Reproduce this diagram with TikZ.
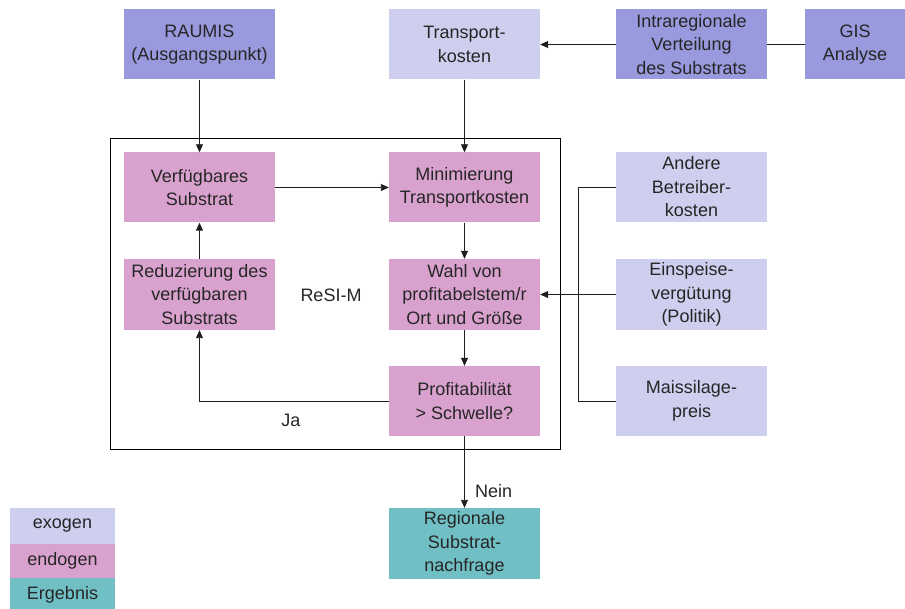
\documentclass[tikz,border=0pt]{standalone}
\usepackage{fontspec}
\setmainfont{Liberation Sans}
\usetikzlibrary{arrows.meta}
\definecolor{exodark}{RGB}{153,153,221}
\definecolor{exolight}{RGB}{206,206,238}
\definecolor{endo}{RGB}{217,162,206}
\definecolor{ergeb}{RGB}{111,191,196}
\definecolor{linec}{RGB}{30,30,30}
\tikzset{
  box/.style={minimum width=151pt, minimum height=70pt, inner sep=0pt, align=center,
    font=\fontsize{18}{23.5}\selectfont, text=black!85},
  exod/.style={box, fill=exodark},
  exol/.style={box, fill=exolight},
  endob/.style={box, fill=endo},
  ergb/.style={box, fill=ergeb},
  leg/.style={minimum width=105pt, inner sep=0pt, align=center, font=\fontsize{18}{23.5}\selectfont, text=black!85},
  arr/.style={draw=linec, line width=0.9pt, -{Triangle[length=8pt,width=7pt]}},
  ln/.style={draw=linec, line width=0.9pt},
  lbl/.style={font=\fontsize{18}{23.5}\selectfont, text=black!85, inner sep=0pt}
}
\begin{document}
\begin{tikzpicture}[x=1pt,y=-1pt]
\useasboundingbox (0,0) rectangle (905,609);
\fill[white] (0,0) rectangle (905,609);
% frame
\draw[line width=0.9pt] (110,138) rectangle (560,449);
% top row
\node[exod] (raumis) at (199.5,44.5) {RAUMIS\\(Ausgangspunkt)};
\node[exol] (transp) at (464.5,44.5) {Transport-\\kosten};
\node[exod] (intra) at (691.5,44.5) {Intraregionale\\Verteilung\\des Substrats};
\node[exod, minimum width=100pt] (gis) at (855,44.5) {GIS\\Analyse};
% inner
\node[endob] (verf) at (199.5,187.5) {Verfügbares\\Substrat};
\node[endob] (mini) at (464.5,187.5) {Minimierung\\Transportkosten};
\node[endob, minimum height=71pt] (redu) at (199.5,294.5) {Reduzierung des\\verfügbaren\\Substrats};
\node[endob, minimum height=71pt] (wahl) at (464.5,294.5) {Wahl von\\profitabelstem/r\\Ort und Größe};
\node[endob] (prof) at (464.5,401) {Profitabilität\\> Schwelle?};
\node[lbl] (resim) at (331,295) {ReSI-M};
% right
\node[exol] (andere) at (691.5,187) {Andere\\Betreiber-\\kosten};
\node[exol, minimum height=71pt] (einsp) at (691.5,294.5) {Einspeise-\\vergütung\\(Politik)};
\node[exol] (mais) at (691.5,401) {Maissilage-\\preis};
% result
\node[ergb, minimum height=71pt] (regio) at (464.5,543.5) {Regionale\\Substrat-\\nachfrage};
% legend
\node[leg, fill=exolight, minimum height=36pt] (lexo) at (62.5,526) {exogen};
\node[leg, fill=endo, minimum height=34pt] (lendo) at (62.5,561) {endogen};
\node[leg, fill=ergeb, minimum height=34pt] (lerg) at (62.5,595) {Ergebnis};
% connectors
\draw[arr] (raumis) -- (verf);
\draw[arr] (transp) -- (mini);
\draw[arr] (intra) -- (transp);
\draw[ln] (gis) -- (intra);
\draw[arr] (verf) -- (mini);
\draw[arr] (mini) -- (wahl);
\draw[arr] (wahl) -- (prof);
\draw[arr] (redu) -- (verf);
\draw[arr] (prof.west) -| (redu.south);
\node[lbl] (ja) at (291,420) {Ja};
\draw[arr] (prof) -- (regio);
\node[lbl, anchor=west] (nein) at (475,491) {Nein};
\coordinate (busT) at (578,187);
\coordinate (busB) at (578,401);
\draw[ln] (andere.west) -- (busT) -- (busB) -- (mais.west);
\draw[arr] (einsp) -- (wahl);
\end{tikzpicture}
\end{document}
